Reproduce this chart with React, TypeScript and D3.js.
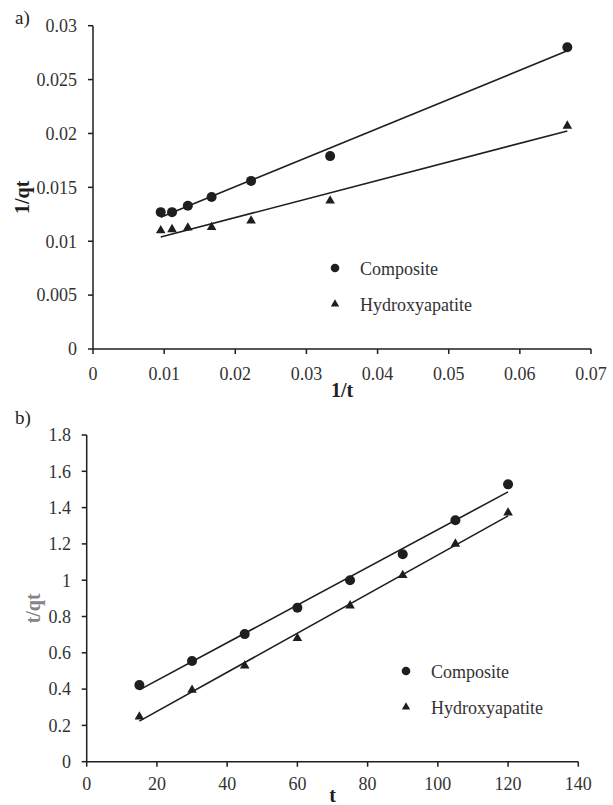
import React from 'react';
import * as d3 from 'd3';

// panel a) : 1/qt vs 1/t
const invT = [0.00952, 0.01111, 0.01333, 0.01667, 0.02222, 0.03333, 0.06667];
const invQComposite = [0.0127, 0.0127, 0.0133, 0.0141, 0.0156, 0.0179, 0.0280];
const invQHydroxy = [0.0110, 0.0111, 0.01125, 0.0113, 0.0119, 0.01376, 0.0207];
const aXTicks = [0, 0.01, 0.02, 0.03, 0.04, 0.05, 0.06, 0.07];
const aYTicks = [0, 0.005, 0.01, 0.015, 0.02, 0.025, 0.03];

// panel b) : t/qt vs t
const tVals = [15, 30, 45, 60, 75, 90, 105, 120];
const tqComposite = [0.422, 0.555, 0.703, 0.848, 1.0, 1.143, 1.33, 1.528];
const tqHydroxy = [0.248, 0.395, 0.529, 0.68, 0.86, 1.027, 1.2, 1.372];
const bXTicks = [0, 20, 40, 60, 80, 100, 120, 140];
const bYTicks = [0, 0.2, 0.4, 0.6, 0.8, 1, 1.2, 1.4, 1.6, 1.8];

const seriesNames = ['Composite', 'Hydroxyapatite'];

const FONT = "'Times New Roman', 'Liberation Serif', 'DejaVu Serif', serif";
const INK = '#1e1e1e';

// least squares fit, like the excel trendline
function fit(xs: number[], ys: number[]) {
  const mx = d3.mean(xs)!;
  const my = d3.mean(ys)!;
  let sxy = 0, sxx = 0;
  xs.forEach((x, i) => { sxy += (x - mx) * (ys[i] - my); sxx += (x - mx) * (x - mx); });
  const slope = sxy / sxx;
  return (x: number) => my + slope * (x - mx);
}

const triangle = d3.symbol().type(d3.symbolTriangle);

function Panel({ xs, ys1, ys2, xTicks, yTicks, xDomain, yDomain, xRange, yRange,
  xFmt, yFmt, xLabelY, yLabelX, xTitle, xTitleY, yTitle, yTitleX, yTitleColor,
  tag, tagY, legendX, legendY }: any) {
  const x = d3.scaleLinear().domain(xDomain).range(xRange);
  const y = d3.scaleLinear().domain(yDomain).range(yRange);
  const [x0, x1] = xRange;
  const [yb, yt] = yRange;
  const xMin = d3.min(xs as number[])!;
  const xMax = d3.max(xs as number[])!;
  const f1 = fit(xs, ys1);
  const f2 = fit(xs, ys2);
  const seg = (f: (v: number) => number) =>
    `M${x(xMin)},${y(f(xMin))}L${x(xMax)},${y(f(xMax))}`;

  return (
    <g style={{ fontFamily: FONT }}>
      <text x={15} y={tagY} fontSize={19} fill={INK}>{tag}</text>

      {/* axes */}
      <line x1={x0} x2={x0} y1={yb} y2={yt} stroke={INK} strokeWidth={1.5} />
      <line x1={x0} x2={x1} y1={yb} y2={yb} stroke={INK} strokeWidth={1.5} />
      {yTicks.map((t: number) => (
        <g key={'y' + t}>
          <line x1={x0 - 5} x2={x0} y1={y(t)} y2={y(t)} stroke={INK} strokeWidth={1.5} />
          <text x={yLabelX} y={y(t)} dy="0.35em" textAnchor="end" fontSize={18} fill="#333">{yFmt(t)}</text>
        </g>
      ))}
      {xTicks.map((t: number) => (
        <g key={'x' + t}>
          <line x1={x(t)} x2={x(t)} y1={yb} y2={yb + 5} stroke={INK} strokeWidth={1.5} />
          <text x={x(t)} y={xLabelY} textAnchor="middle" fontSize={18} fill="#333">{xFmt(t)}</text>
        </g>
      ))}
      <text x={(x0 + x1) / 2} y={xTitleY} textAnchor="middle" fontSize={20} fontWeight="bold" fill={INK}>{xTitle}</text>
      <text transform={`translate(${yTitleX},${(yb + yt) / 2 + 10}) rotate(-90)`} textAnchor="middle"
        dy="0.35em" fontSize={20} fontWeight="bold" fill={yTitleColor}>{yTitle}</text>

      {/* trend lines */}
      <path d={seg(f1)} stroke={INK} strokeWidth={1.6} fill="none" />
      <path d={seg(f2)} stroke={INK} strokeWidth={1.6} fill="none" />

      {/* points */}
      {xs.map((v: number, i: number) => (
        <circle key={'c' + i} cx={x(v)} cy={y(ys1[i])} r={5} fill={INK} />
      ))}
      {xs.map((v: number, i: number) => (
        <path key={'t' + i} d={triangle.size(40)()!} transform={`translate(${x(v)},${y(ys2[i])})`} fill={INK} />
      ))}

      {/* legend */}
      <circle cx={legendX} cy={legendY} r={4.3} fill={INK} />
      <text x={legendX + 25} y={legendY + 7} fontSize={18} fill="#333">{seriesNames[0]}</text>
      <path d={triangle.size(30)()!} transform={`translate(${legendX},${legendY + 36})`} fill={INK} />
      <text x={legendX + 25} y={legendY + 43} fontSize={18} fill="#333">{seriesNames[1]}</text>
    </g>
  );
}

export default function App() {
  const fmtA = (v: number) => (v === 0 ? '0' : String(+v.toFixed(3)));
  const fmtB = (v: number) => String(+v.toFixed(1));
  return (
    <svg width={613} height={805} style={{ position: 'absolute', left: 0, top: 0, background: '#fff' }}>
      <rect width={613} height={805} fill="#fff" />
      <Panel xs={invT} ys1={invQComposite} ys2={invQHydroxy}
        xTicks={aXTicks} yTicks={aYTicks} xDomain={[0, 0.07]} yDomain={[0, 0.03]}
        xRange={[93, 591]} yRange={[349, 25.7]} xFmt={fmtA} yFmt={fmtA}
        xLabelY={380} yLabelX={77} xTitle="1/t" xTitleY={397} yTitle="1/qt" yTitleX={22}
        yTitleColor={INK} tag="a)" tagY={24} legendX={335} legendY={268} />
      <Panel xs={tVals} ys1={tqComposite} ys2={tqHydroxy}
        xTicks={bXTicks} yTicks={bYTicks} xDomain={[0, 140]} yDomain={[0, 1.8]}
        xRange={[86.7, 578.3]} yRange={[761.7, 435]} xFmt={(v: number) => String(v)} yFmt={fmtB}
        xLabelY={790} yLabelX={71} xTitle="t" xTitleY={802} yTitle="t/qt" yTitleX={33}
        yTitleColor="#858585" tag="b)" tagY={424} legendX={406} legendY={671} />
    </svg>
  );
}
